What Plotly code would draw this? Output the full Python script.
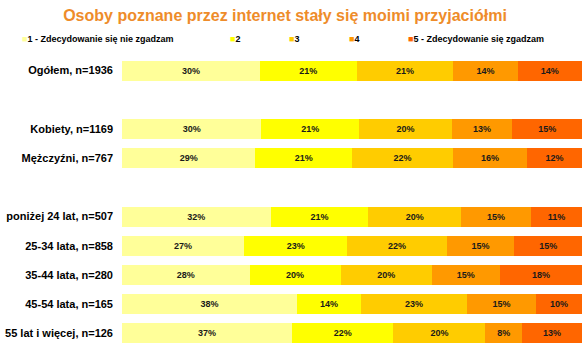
import plotly.graph_objects as go

# ---- data ----
categories = ["Ogółem, n=1936", " ", "Kobiety, n=1169", "Mężczyźni, n=767", "  ",
              "poniżej 24 lat, n=507", "25-34 lata, n=858", "35-44 lata, n=280",
              "45-54 lata, n=165", "55 lat i więcej, n=126"]
series_names = ["1 - Zdecydowanie się nie zgadzam", "2", "3", "4", "5 - Zdecydowanie się zgadzam"]
s1 = [30, None, 30, 29, None, 32, 27, 28, 38, 37]
s2 = [21, None, 21, 21, None, 21, 23, 20, 14, 22]
s3 = [21, None, 20, 22, None, 20, 22, 20, 23, 20]
s4 = [14, None, 13, 16, None, 15, 15, 15, 15, 8]
s5 = [14, None, 15, 12, None, 11, 15, 18, 10, 13]
colors = ["#FFFF99", "#FFFF00", "#FFCC00", "#FF9900", "#FF6600"]
title_text = "Osoby poznane przez internet stały się moimi przyjaciółmi"

series = [s1, s2, s3, s4, s5]

fig = go.Figure()
for name, vals, col in zip(series_names, series, colors):
    fig.add_trace(go.Bar(
        y=categories, x=vals, name=name, orientation="h",
        marker=dict(color=col, line=dict(width=0)),
        text=[f"{v}%" if v is not None else "" for v in vals],
        textposition="inside", insidetextanchor="middle", textangle=0,
        textfont=dict(family="Arial, Liberation Sans, sans-serif", size=9, color="#1a1a1a", weight="bold"),
        hoverinfo="skip", showlegend=False, cliponaxis=False,
    ))

# legend built as text annotations (small coloured squares + labels)
W, H = 586, 350
ml, mr, mt, mb = 122, 4, 56, 2
pw, ph = W - ml - mr, H - mt - mb
legend_px = [20, 228, 287, 347, 406]
legend_py = 39
for name, col, px in zip(series_names, colors, legend_px):
    fig.add_annotation(
        xref="paper", yref="paper",
        x=(px - ml) / pw, y=(H - mb - legend_py) / ph,
        xanchor="left", yanchor="middle", showarrow=False,
        text=f"<span style='color:{col}'>■</span>{name}",
        font=dict(family="Arial, Liberation Sans, sans-serif", size=9, color="#000000", weight="bold"),
    )

fig.update_layout(
    width=W, height=H,
    margin=dict(l=ml, r=mr, t=mt, b=mb),
    barmode="stack", barnorm="percent", bargap=0.31,
    paper_bgcolor="white", plot_bgcolor="white",
    title=dict(text=title_text, x=285 / W, xanchor="center", xref="container",
               y=1 - 15 / H, yanchor="middle", yref="container",
               font=dict(family="Arial, Liberation Sans, sans-serif", size=16, color="#EE8C2A", weight="bold")),
    xaxis=dict(visible=False, range=[0, 100.0001], fixedrange=True),
    yaxis=dict(autorange="reversed", showgrid=False, zeroline=False, showline=False,
               ticks="", ticklabelstandoff=8,
               tickfont=dict(family="Arial, Liberation Sans, sans-serif", size=11, color="#000000", weight="bold")),
    font=dict(family="Arial, Liberation Sans, sans-serif"),
    showlegend=False,
    uniformtext=dict(mode=False),
)

fig.write_html("out.html")
